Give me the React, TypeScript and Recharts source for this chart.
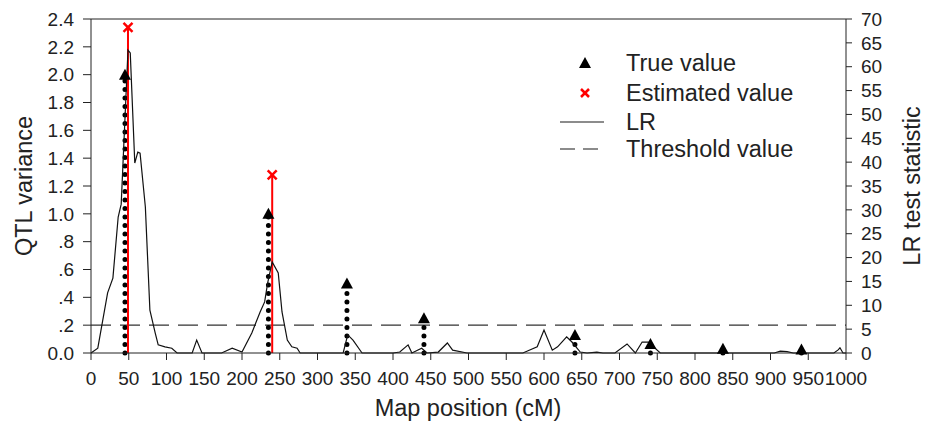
import React from "react";
import { ComposedChart, Line, Scatter, XAxis, YAxis, ReferenceLine, Legend } from "recharts";

document.body.style.margin = "0";

// LR curve (map position in cM, LR test statistic)
const lrPos = [0, 9, 22, 29, 36, 40, 49, 52, 58, 62, 65, 72, 78, 85, 89, 98, 107, 114, 134, 140, 147, 173, 187, 200, 213, 224, 230, 234, 240, 248, 253, 260, 266, 273, 277, 334, 340, 347, 359, 400, 409, 420, 425, 438, 445, 460, 472, 479, 498, 572, 591, 600, 611, 618, 630, 637, 648, 657, 670, 678, 694, 710, 721, 730, 738, 754, 905, 913, 922, 930, 984, 990, 992, 996, 1000];
const lrVal = [0, 1.0, 12.6, 15.7, 28.5, 31.2, 63.5, 62.9, 39.8, 42.1, 41.9, 30.6, 9.0, 4.2, 1.7, 1.3, 1.0, 0, 0, 2.7, 0, 0, 1.0, 0.2, 4.2, 8.6, 10.7, 14.7, 19.1, 16.8, 8.6, 2.7, 1.3, 1.0, 0, 0, 3.8, 2.7, 0, 0, 0.2, 1.7, 0, 1.0, 0, 0.2, 2.1, 0.6, 0, 0, 1.3, 4.8, 0.6, 1.3, 3.4, 2.3, 0.2, 0, 0.2, 0, 0, 1.9, 0, 2.3, 2.3, 0, 0, 0.4, 0.3, 0, 0, 0.7, 1.1, 0, 0];

// true QTL positions / variances
const truePos = [45, 235, 339, 441, 641, 741, 837, 941];
const trueVal = [2.0, 1.0, 0.5, 0.25, 0.13, 0.065, 0.03, 0.025];

// estimated QTL positions / variances
const estPos = [49, 240];
const estVal = [2.34, 1.28];

const threshold = 0.2;

const xTicks = [0, 50, 100, 150, 200, 250, 300, 350, 400, 450, 500, 550, 600, 650, 700, 750, 800, 850, 900, 950, 1000];
const leftTicks = [0, 0.2, 0.4, 0.6, 0.8, 1.0, 1.2, 1.4, 1.6, 1.8, 2.0, 2.2, 2.4];
const rightTicks = [0, 5, 10, 15, 20, 25, 30, 35, 40, 45, 50, 55, 60, 65, 70];

const lrData = lrPos.map((p, i) => ({ pos: p, lr: lrVal[i] }));
const trueData = truePos.map((p, i) => ({ pos: p, v: trueVal[i] }));
const estData = estPos.map((p, i) => ({ pos: p, v: estVal[i] }));

const FONT = "'Liberation Sans', Arial, sans-serif";
const INK = "#222";
const TICK = { fill: INK, fontSize: 19, fontFamily: FONT };

const fmtLeft = (v: number) => {
  if (v === 0) return "0.0";
  if (v < 1) return "." + Math.round(v * 10);
  return v.toFixed(1);
};

const Triangle = (props: any) => {
  const { cx, cy } = props;
  return <polygon points={`${cx},${cy - 6} ${cx - 6},${cy + 5} ${cx + 6},${cy + 5}`} fill="#000" />;
};

const Cross = (props: any) => {
  const { cx, cy } = props;
  const s = 4.5;
  return (
    <g stroke="#ff0000" strokeWidth={2.5}>
      <line x1={cx - s} y1={cy - s} x2={cx + s} y2={cy + s} />
      <line x1={cx - s} y1={cy + s} x2={cx + s} y2={cy - s} />
    </g>
  );
};

const LegendBox = () => {
  const row = (top: number, icon: React.ReactNode, text: string) => (
    <div style={{ position: "absolute", left: 0, top, height: 28, display: "flex", alignItems: "center" }}>
      <svg width={66} height={28}>{icon}</svg>
      <span style={{ fontSize: 23.5, color: INK, fontFamily: FONT, whiteSpace: "nowrap" }}>{text}</span>
    </div>
  );
  return (
    <div style={{ position: "relative", width: 270, height: 120 }}>
      {row(0, <polygon points="25,8 19,19 31,19" fill="#000" />, "True value")}
      {row(30, <g stroke="#ff0000" strokeWidth={2.5}><line x1={21} y1={10} x2={29} y2={18} /><line x1={21} y1={18} x2={29} y2={10} /></g>, "Estimated value")}
      {row(59, <line x1={0} y1={14} x2={44} y2={14} stroke="#666" strokeWidth={1.5} />, "LR")}
      {row(86, <line x1={0} y1={14} x2={38} y2={14} stroke="#666" strokeWidth={1.5} strokeDasharray="15 8" />, "Threshold value")}
    </div>
  );
};

export default function App() {
  return (
    <div style={{ position: "relative", width: 935, height: 425, fontFamily: FONT }}>
      <ComposedChart width={935} height={425} margin={{ top: 19, right: 29, bottom: 32, left: 31 }}>
        <XAxis
          dataKey="pos"
          type="number"
          domain={[0, 1000]}
          ticks={xTicks}
          interval={0}
          height={40}
          tickSize={7}
          tickMargin={12}
          stroke={INK}
          tick={TICK}
        />
        <YAxis
          yAxisId="left"
          type="number"
          domain={[0, 2.4]}
          ticks={leftTicks}
          interval={0}
          width={60}
          tickSize={8}
          tickMargin={9}
          tickFormatter={fmtLeft}
          stroke={INK}
          tick={TICK}
        />
        <YAxis
          yAxisId="right"
          orientation="right"
          type="number"
          domain={[0, 70]}
          ticks={rightTicks}
          interval={0}
          width={60}
          tickSize={6}
          tickMargin={9}
          stroke={INK}
          tick={TICK}
        />
        <ReferenceLine yAxisId="left" y={2.4} stroke={INK} />
        <ReferenceLine yAxisId="left" y={threshold} stroke="#333" strokeWidth={1.3} strokeDasharray="20 9" />
        {trueData.map((d) => (
          <ReferenceLine
            key={"t" + d.pos}
            yAxisId="left"
            segment={[{ x: d.pos, y: 0 }, { x: d.pos, y: d.v }]}
            stroke="#000"
            strokeWidth={5}
            strokeDasharray="0 8.5"
            strokeLinecap="round"
          />
        ))}
        {estData.map((d) => (
          <ReferenceLine
            key={"e" + d.pos}
            yAxisId="left"
            segment={[{ x: d.pos, y: 0 }, { x: d.pos, y: d.v }]}
            stroke="#ff0000"
            strokeWidth={2}
          />
        ))}
        <Line
          data={lrData}
          yAxisId="right"
          dataKey="lr"
          type="linear"
          stroke="#111"
          strokeWidth={1.2}
          dot={false}
          activeDot={false}
          isAnimationActive={false}
        />
        <Scatter data={trueData} yAxisId="left" dataKey="v" shape={<Triangle />} isAnimationActive={false} />
        <Scatter data={estData} yAxisId="left" dataKey="v" shape={<Cross />} isAnimationActive={false} />
        <Legend
          layout="horizontal"
          verticalAlign="middle"
          align="center"
          content={<LegendBox />}
          wrapperStyle={{ left: 560, top: 49, width: 270 }}
        />
      </ComposedChart>
      <div
        style={{
          position: "absolute",
          left: 24,
          top: 186,
          transform: "translate(-50%, -50%) rotate(-90deg)",
          fontSize: 23.5,
          color: INK,
          whiteSpace: "nowrap",
        }}
      >
        QTL variance
      </div>
      <div
        style={{
          position: "absolute",
          left: 912,
          top: 186,
          transform: "translate(-50%, -50%) rotate(-90deg)",
          fontSize: 23.5,
          color: INK,
          whiteSpace: "nowrap",
        }}
      >
        LR test statistic
      </div>
      <div
        style={{
          position: "absolute",
          left: 468,
          top: 408,
          transform: "translate(-50%, -50%)",
          fontSize: 23.5,
          color: INK,
          whiteSpace: "nowrap",
        }}
      >
        Map position (cM)
      </div>
    </div>
  );
}
